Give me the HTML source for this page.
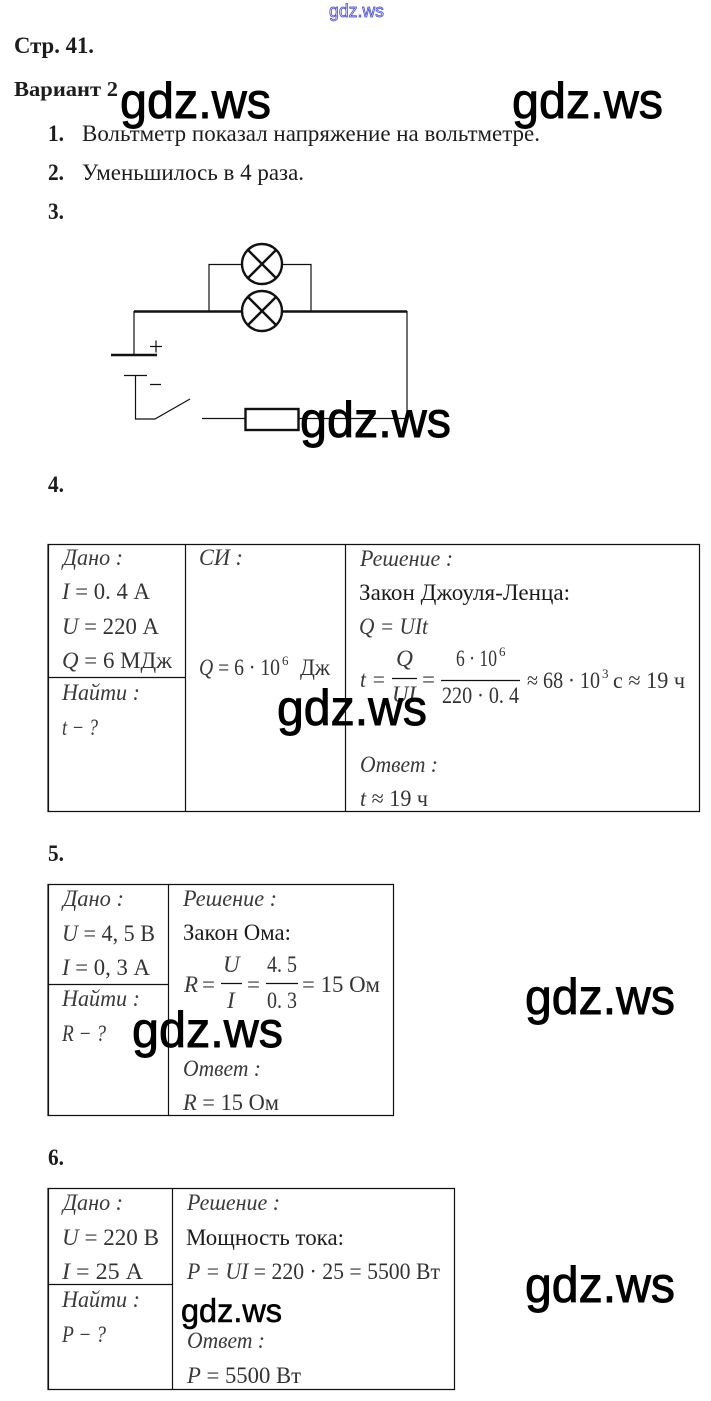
<!DOCTYPE html>
<html><head><meta charset="utf-8"><style>
html,body{margin:0;padding:0;background:#fff}
svg{display:block}
text{font-family:"Liberation Serif","Noto Serif CJK SC",serif;fill:#1c1c1c;font-size:23px}
.b{font-weight:bold}
.i{font-style:italic;fill:#3a3a3a}
.m{fill:#333}
.w{font-family:"Liberation Sans",sans-serif;font-size:50px;fill:#000;stroke:#000;stroke-width:.9}
.l{stroke:#111;stroke-width:1.2;fill:none}
.t{stroke:#111;stroke-width:2.4;fill:none}
.u{font-size:13px}
</style></head><body>
<svg width="711" height="1401" viewBox="0 0 711 1401" xmlns="http://www.w3.org/2000/svg">
<rect width="711" height="1401" fill="#fff"/>
<text x="329" y="17" style="font-family:'Liberation Sans',sans-serif;font-size:18px;fill:#dfe0ff;stroke:#3a3ad0;stroke-width:.7" textLength="55" lengthAdjust="spacingAndGlyphs">gdz.ws</text>

<text x="14" y="53" class="b" textLength="80" lengthAdjust="spacingAndGlyphs">Стр. 41.</text>
<text x="14" y="96" class="b" style="font-size:21px" textLength="104" lengthAdjust="spacingAndGlyphs">Вариант 2</text>
<text x="48" y="141" class="b" textLength="16" lengthAdjust="spacingAndGlyphs">1.</text>
<text x="82" y="141" textLength="458" lengthAdjust="spacingAndGlyphs">Вольтметр показал напряжение на вольтметре.</text>
<text x="48" y="180" class="b" textLength="16" lengthAdjust="spacingAndGlyphs">2.</text>
<text x="82" y="180" textLength="222" lengthAdjust="spacingAndGlyphs">Уменьшилось в 4 раза.</text>
<text x="48" y="219" class="b" textLength="16" lengthAdjust="spacingAndGlyphs">3.</text>
<text x="48" y="492" class="b" textLength="16" lengthAdjust="spacingAndGlyphs">4.</text>
<text x="48" y="861" class="b" textLength="16" lengthAdjust="spacingAndGlyphs">5.</text>
<text x="48" y="1165" class="b" textLength="16" lengthAdjust="spacingAndGlyphs">6.</text>

<!-- circuit -->
<path class="l" d="M209 311V264.500H242M282 264.500H311V311"/>
<circle class="t" cx="262" cy="264" r="20"/>
<path class="t" d="M248 250L276 278M276 250L248 278"/>
<circle class="t" cx="262" cy="311" r="20"/>
<path class="t" d="M248 297L276 325M276 297L248 325"/>
<path class="t" d="M134 311.500H242M282 311.500H407"/>
<path class="l" d="M134 311V355M407 311V418"/>
<path class="t" d="M111 355H157"/>
<path class="l" d="M124 375.500H147M135.500 375.500V419H155L190 399M202 418.500H245M298 418.500H407"/>
<path class="l" d="M150 346.500H162M156 340.500V352.500M150 384.500H161"/>
<rect class="t" x="245.500" y="409" width="53" height="21"/>

<!-- table 1 -->
<path class="l" d="M48 544.500H699.500V811.500H48ZM48.500 544V811M185.500 544V812M345.500 544V812M48 677.500H185"/>
<text x="63" y="565" class="i" textLength="60" lengthAdjust="spacingAndGlyphs">Дано :</text>
<text x="62" y="599" class="m" textLength="88" lengthAdjust="spacingAndGlyphs"><tspan class="i">I</tspan> = 0. 4 А</text>
<text x="62" y="634" class="m" textLength="97" lengthAdjust="spacingAndGlyphs"><tspan class="i">U</tspan> = 220 А</text>
<text x="62" y="668" class="m" textLength="110" lengthAdjust="spacingAndGlyphs"><tspan class="i">Q</tspan> = 6 МДж</text>
<text x="62" y="700" class="i" textLength="78" lengthAdjust="spacingAndGlyphs">Найти :</text>
<text x="62" y="735" class="i" textLength="36" lengthAdjust="spacingAndGlyphs">t − ?</text>
<text x="199" y="565" class="i" textLength="44" lengthAdjust="spacingAndGlyphs">СИ :</text>
<text x="199" y="675" class="m" textLength="81" lengthAdjust="spacingAndGlyphs"><tspan class="i">Q</tspan> = 6 · 10</text>
<text x="282" y="665" class="m u">6</text>
<text x="300" y="675" class="m" textLength="30" lengthAdjust="spacingAndGlyphs">Дж</text>
<text x="360" y="566" class="i" textLength="93" lengthAdjust="spacingAndGlyphs">Решение :</text>
<text x="359" y="600" textLength="211" lengthAdjust="spacingAndGlyphs">Закон Джоуля-Ленца:</text>
<text x="359" y="634" class="i" textLength="69" lengthAdjust="spacingAndGlyphs">Q = UIt</text>
<text x="360" y="687" class="i" textLength="26" lengthAdjust="spacingAndGlyphs">t =</text>
<path class="l" d="M392 678.500H417M441 680.500H520"/>
<text x="396" y="666" class="i" textLength="17" lengthAdjust="spacingAndGlyphs">Q</text>
<text x="392" y="702" class="i" textLength="24" lengthAdjust="spacingAndGlyphs">UI</text>
<text x="422" y="687" class="m">=</text>
<text x="456" y="666" class="m" textLength="41" lengthAdjust="spacingAndGlyphs">6 · 10</text>
<text x="499" y="656" class="m u">6</text>
<text x="442" y="703" class="m" textLength="77" lengthAdjust="spacingAndGlyphs">220 · 0. 4</text>
<text x="527" y="688" class="m" textLength="73" lengthAdjust="spacingAndGlyphs">≈ 68 · 10</text>
<text x="602" y="678" class="m u">3</text>
<text x="613" y="688" class="m" textLength="72" lengthAdjust="spacingAndGlyphs">с ≈ 19 ч</text>
<text x="360" y="772" class="i" textLength="78" lengthAdjust="spacingAndGlyphs">Ответ :</text>
<text x="360" y="806" class="m" textLength="68" lengthAdjust="spacingAndGlyphs"><tspan class="i">t</tspan> ≈ 19 ч</text>

<!-- table 2 -->
<path class="l" d="M48 884.500H393.500V1115.500H48ZM48.500 884V1115M168.500 884V1116M48 984.500H168"/>
<text x="63" y="906" class="i" textLength="61" lengthAdjust="spacingAndGlyphs">Дано :</text>
<text x="62" y="941" class="m" textLength="93" lengthAdjust="spacingAndGlyphs"><tspan class="i">U</tspan> = 4, 5 В</text>
<text x="62" y="975" class="m" textLength="88" lengthAdjust="spacingAndGlyphs"><tspan class="i">I</tspan> = 0, 3 А</text>
<text x="62" y="1006" class="i" textLength="78" lengthAdjust="spacingAndGlyphs">Найти :</text>
<text x="62" y="1041" class="i" textLength="44" lengthAdjust="spacingAndGlyphs">R − ?</text>
<text x="183" y="906" class="i" textLength="94" lengthAdjust="spacingAndGlyphs">Решение :</text>
<text x="183" y="940" textLength="108" lengthAdjust="spacingAndGlyphs">Закон Ома:</text>
<text x="184" y="992" class="i">R</text><text x="202" y="992" class="m">=</text>
<path class="l" d="M221 983.500H242M266 983.500H298"/>
<text x="223" y="972" class="i">U</text>
<text x="227" y="1008" class="i">I</text>
<text x="247" y="992" class="m">=</text>
<text x="267" y="972" class="m" textLength="30" lengthAdjust="spacingAndGlyphs">4. 5</text>
<text x="267" y="1008" class="m" textLength="30" lengthAdjust="spacingAndGlyphs">0. 3</text>
<text x="302" y="992" class="m" textLength="78" lengthAdjust="spacingAndGlyphs">= 15 Ом</text>
<text x="183" y="1076" class="i" textLength="78" lengthAdjust="spacingAndGlyphs">Ответ :</text>
<text x="183" y="1110" class="m" textLength="96" lengthAdjust="spacingAndGlyphs"><tspan class="i">R</tspan> = 15 Ом</text>

<!-- table 3 -->
<path class="l" d="M48 1188.500H454.500V1389.500H48ZM48.500 1188V1390M172.500 1188V1390M48 1284.500H172"/>
<text x="63" y="1210" class="i" textLength="60" lengthAdjust="spacingAndGlyphs">Дано :</text>
<text x="62" y="1245" class="m" textLength="97" lengthAdjust="spacingAndGlyphs"><tspan class="i">U</tspan> = 220 В</text>
<text x="62" y="1279" class="m" textLength="81" lengthAdjust="spacingAndGlyphs"><tspan class="i">I</tspan> = 25 А</text>
<text x="62" y="1307" class="i" textLength="78" lengthAdjust="spacingAndGlyphs">Найти :</text>
<text x="62" y="1342" class="i" textLength="44" lengthAdjust="spacingAndGlyphs">P − ?</text>
<text x="187" y="1210" class="i" textLength="93" lengthAdjust="spacingAndGlyphs">Решение :</text>
<text x="186" y="1245" textLength="158" lengthAdjust="spacingAndGlyphs">Мощность тока:</text>
<text x="187" y="1279" class="m" textLength="253" lengthAdjust="spacingAndGlyphs"><tspan class="i">P = UI</tspan> = 220 · 25 = 5500 Вт</text>
<text x="187" y="1348" class="i" textLength="78" lengthAdjust="spacingAndGlyphs">Ответ :</text>
<text x="187" y="1383" class="m" textLength="114" lengthAdjust="spacingAndGlyphs"><tspan class="i">P</tspan> = 5500 Вт</text>

<!-- watermarks -->
<text class="w" x="120" y="118" textLength="151" lengthAdjust="spacingAndGlyphs">gdz.ws</text>
<text class="w" x="512" y="118" textLength="151" lengthAdjust="spacingAndGlyphs">gdz.ws</text>
<text class="w" x="300" y="437" textLength="151" lengthAdjust="spacingAndGlyphs">gdz.ws</text>
<text class="w" x="277" y="725" textLength="150" lengthAdjust="spacingAndGlyphs">gdz.ws</text>
<text class="w" x="525" y="1014" textLength="150" lengthAdjust="spacingAndGlyphs">gdz.ws</text>
<text class="w" x="132" y="1047" textLength="151" lengthAdjust="spacingAndGlyphs">gdz.ws</text>
<text class="w" x="525" y="1302" textLength="150" lengthAdjust="spacingAndGlyphs">gdz.ws</text>
<text class="w" style="font-size:33px;stroke-width:.6" x="181" y="1322" textLength="101" lengthAdjust="spacingAndGlyphs">gdz.ws</text>
</svg>
</body></html>
